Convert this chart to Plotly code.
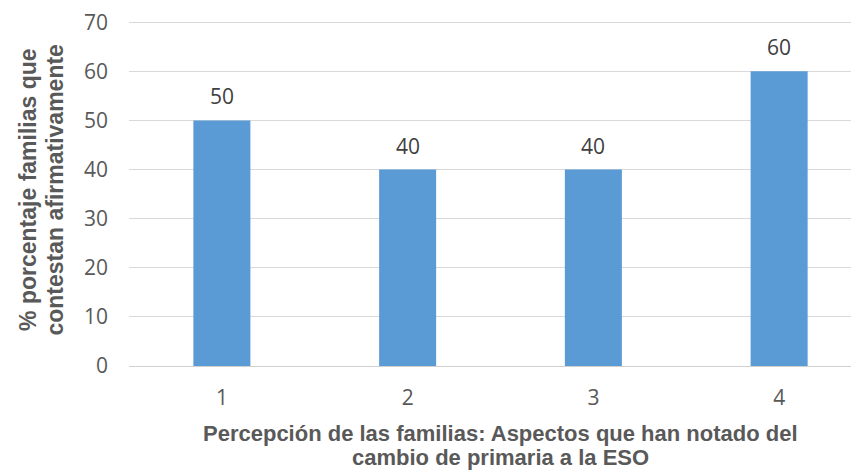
import plotly.graph_objects as go

categories = [1, 2, 3, 4]
values = [50, 40, 40, 60]
y_ticks = [0, 10, 20, 30, 40, 50, 60, 70]
x_title_lines = ["Percepción de las familias: Aspectos que han notado del",
                 "cambio de primaria a la ESO"]
y_title_lines = ["% porcentaje familias que", "contestan afirmativamente"]

TICK_FONT = "Open Sans, Liberation Sans, sans-serif"
TITLE_FONT = "Liberation Sans, Arial, sans-serif"

fig = go.Figure()
fig.add_trace(go.Bar(
    x=categories, y=values, width=0.307,
    marker=dict(color="#5B9BD5", line=dict(width=0)),
    hoverinfo="skip",
))

for c, v in zip(categories, values):
    fig.add_annotation(x=c, y=v, xref="x", yref="y", text=str(v), showarrow=False,
                       yanchor="bottom", yshift=8,
                       font=dict(family=TICK_FONT, size=21, color="#404040"))

for line, yf in zip(x_title_lines, [-0.1971, -0.2638]):
    fig.add_annotation(x=2.5, xref="x", y=yf, yref="paper", yanchor="middle", text="<b>" + line + "</b>",
                       showarrow=False, align="center",
                       font=dict(family=TITLE_FONT, size=22, color="#595959"))

for line, xf in zip(y_title_lines, [-0.1385, -0.1020]):
    fig.add_annotation(x=xf, xref="paper", y=0.5101, yref="paper", text="<b>" + line + "</b>", textangle=-90,
                       showarrow=False, align="center", xanchor="center", yanchor="middle",
                       font=dict(family=TITLE_FONT, size=23, color="#595959"))

fig.update_layout(
    width=851, height=462,
    margin=dict(l=121, r=0, t=13, b=104, autoexpand=False),
    paper_bgcolor="white", plot_bgcolor="white",
    showlegend=False,
    xaxis=dict(range=[0.5, 4.43], tickvals=categories, ticktext=[str(c) for c in categories],
               showgrid=False, zeroline=False, showline=False, ticks="", automargin=False,
               ticklabelstandoff=17, ticklabeloverflow="allow",
               tickfont=dict(family=TICK_FONT, size=21, color="#595959")),
    yaxis=dict(range=[0, 70.25], tickvals=y_ticks, showgrid=True, gridcolor="#d9d9d9", gridwidth=1,
               zeroline=True, zerolinecolor="#d0d0d0", zerolinewidth=1.3, showline=False, ticks="",
               automargin=False, ticklabelstandoff=20, ticklabeloverflow="allow",
               tickfont=dict(family=TICK_FONT, size=21, color="#595959")),
)

fig.write_html("out.html")
